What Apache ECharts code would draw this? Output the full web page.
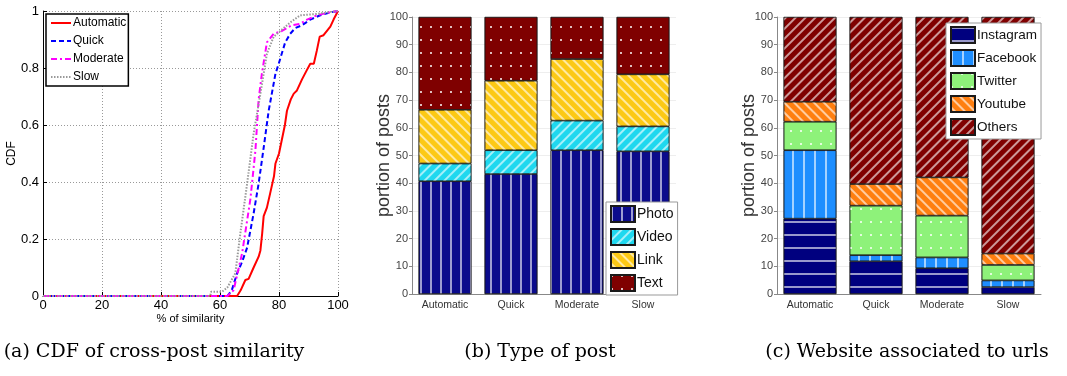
<!DOCTYPE html>
<html><head><meta charset="utf-8">
<script src="https://cdn.jsdelivr.net/npm/echarts@6/dist/echarts.min.js"></script>
<style>html,body{margin:0;padding:0;background:#fff}#c{width:1067px;height:376px}</style>
</head><body><div id="c"></div>
<script>
// ---- (a) CDF of cross-post similarity : [similarity %, CDF]
const cdfAutomatic = [[0,0],[65.8,0],[67,0.02],[68.6,0.056],[69.7,0.06],[71.4,0.1],[73.1,0.138],[73.7,0.16],[74.3,0.22],[74.8,0.28],[75.9,0.31],[77,0.36],[78.3,0.42],[78.8,0.465],[80,0.5],[81,0.55],[82,0.6],[82.7,0.65],[84,0.69],[85,0.71],[86,0.72],[87.8,0.76],[89.3,0.79],[90.6,0.815],[91.8,0.815],[92.8,0.86],[93.8,0.91],[95.1,0.915],[97.4,0.945],[98.5,0.97],[100,1]];
const cdfQuick = [[0,0],[62.5,0],[64,0.02],[65.8,0.08],[67.5,0.12],[69.2,0.17],[71.4,0.29],[73.1,0.395],[74.8,0.52],[76.5,0.65],[78.8,0.78],[79.9,0.815],[82.1,0.89],[83.8,0.92],[85.5,0.94],[87.8,0.95],[90.6,0.97],[94,0.985],[97.4,0.995],[100,1]];
const cdfModerate = [[0,0],[62.5,0],[64.6,0.02],[67.5,0.15],[70.3,0.34],[72,0.51],[73.1,0.69],[74.2,0.78],[75.9,0.89],[78.2,0.92],[81,0.93],[84.4,0.95],[87.2,0.955],[89.5,0.97],[92.9,0.985],[97,0.995],[100,1]];
const cdfSlow = [[0,0],[56.7,0],[57,0.015],[60.7,0.015],[62.5,0.03],[65.2,0.08],[66.9,0.22],[69.2,0.395],[71.4,0.57],[73.7,0.71],[75.9,0.85],[78.2,0.91],[80.5,0.93],[83.8,0.96],[87.2,0.985],[93,0.99],[100,1]];

// ---- (b) Type of post (% of posts)
const groups = ['Automatic','Quick','Moderate','Slow'];
const photo = [40.7, 43.3, 51.9, 51.5];
const video = [6.4, 8.6, 10.7, 9.0];
const link  = [19.4, 25.1, 22.2, 18.8];
const text  = [33.5, 23.0, 15.2, 20.7];

// ---- (c) Website associated to urls (% of posts)
const instagram = [27.2, 11.8, 9.3, 2.5];
const facebook  = [24.7, 2.2, 3.9, 2.4];
const twitter   = [10.3, 17.9, 15.1, 5.6];
const youtube   = [7.2, 7.8, 13.8, 4.1];
const others    = [30.6, 60.3, 57.9, 85.4];

const captions = ['(a) CDF of cross-post similarity','(b) Type of post','(c) Website associated to urls'];

const W = 'rgba(255,255,255,0.6)';
const decVert = (gap)=>({symbol:'rect',symbolSize:1,dashArrayX:[1.2,gap],dashArrayY:[1,0],color:W});
const decHorz = (gap)=>({symbol:'rect',symbolSize:1,dashArrayX:[1,0],dashArrayY:[1.2,gap],color:W});
const decDiag = (rot)=>({symbol:'rect',symbolSize:1,dashArrayX:[1,0],dashArrayY:[1.1,4.3],rotation:rot,color:W});
const decDots = {symbol:'rect',symbolSize:1,dashArrayX:[1.5,7.5],dashArrayY:[1.5,10.5],color:'rgba(255,255,255,0.75)'};

const sansAx = {fontFamily:'Liberation Sans, Arial, sans-serif'};
const chart = echarts.init(document.getElementById('c'),null,{renderer:'canvas'});

function barSeries(name,data,color,decal,stack,idx){
  return {name,type:'bar',stack,data,xAxisIndex:idx,yAxisIndex:idx,barCategoryGap:'20%',
    itemStyle:{color,decal,borderColor:'#1a1a1a',borderWidth:0.6}};
}
function lineSeries(name,data,color,type,width){
  return {name,type:'line',data,xAxisIndex:0,yAxisIndex:0,symbol:'none',
    lineStyle:{color,type,width},itemStyle:{color},z:3};
}
const barYAxis = (idx)=>({type:'value',gridIndex:idx,min:0,max:100,interval:10,
  name:'portion of posts',nameLocation:'middle',nameGap:19,nameMoveOverlap:false,
  nameTextStyle:{fontSize:18,color:'#333',...sansAx},
  axisLine:{show:true,lineStyle:{color:'#888'}},axisTick:{show:true,length:3,lineStyle:{color:'#888'}},
  axisLabel:{fontSize:11,color:'#444',margin:4,...sansAx},
  splitLine:{show:true,lineStyle:{color:'#eeeeee',width:1}}});
const barXAxis = (idx)=>({type:'category',gridIndex:idx,data:groups,
  axisLine:{show:true,lineStyle:{color:'#888'}},axisTick:{show:false},
  axisLabel:{fontSize:10.5,color:'#333',margin:6,fontFamily:'Liberation Sans Narrow, Liberation Sans, sans-serif'}});
const capFont = '19px "DejaVu Serif", serif';

chart.setOption({
  animation:false,
  grid:[
    {left:43,top:11,width:295,height:285},
    {left:412,top:17,width:264,height:277},
    {left:777,top:17,width:264,height:277}
  ],
  xAxis:[
    {type:'value',gridIndex:0,min:0,max:100,interval:20,
      name:'% of similarity',nameLocation:'middle',nameGap:17,nameMoveOverlap:false,nameTextStyle:{fontSize:11,color:'#000',...sansAx},
      axisLine:{lineStyle:{color:'#000',width:1}},axisTick:{inside:true,length:4,lineStyle:{color:'#000'}},
      axisLabel:{fontSize:13,color:'#000',margin:3,...sansAx},
      splitLine:{show:true,lineStyle:{color:'#999',type:[1,2]}}},
    barXAxis(1), barXAxis(2)
  ],
  yAxis:[
    {type:'value',gridIndex:0,min:0,max:1,interval:0.2,
      name:'CDF',nameLocation:'middle',nameGap:25,nameMoveOverlap:false,nameTextStyle:{fontSize:12,color:'#000',...sansAx},
      axisLine:{show:true,lineStyle:{color:'#000',width:1}},axisTick:{show:true,inside:true,length:4,lineStyle:{color:'#000'}},
      axisLabel:{fontSize:13,color:'#000',margin:4,...sansAx},
      splitLine:{show:true,lineStyle:{color:'#999',type:[1,2]}}},
    barYAxis(1), barYAxis(2)
  ],
  legend:[
    {data:['Automatic','Quick','Moderate','Slow'],orient:'vertical',left:46,top:14,
      itemWidth:20,itemHeight:12,itemGap:6,padding:[3,2,3,4],
      itemStyle:{opacity:0},
      backgroundColor:'#fff',borderColor:'#000',borderWidth:1.5,
      textStyle:{fontSize:12,color:'#000',padding:[0,0,0,-3],...sansAx}},
    {data:['Photo','Video','Link','Text'],orient:'vertical',left:606,top:202,icon:'rect',
      itemWidth:24,itemHeight:16,itemGap:5,padding:[3,4,3,4],
      backgroundColor:'#fff',borderColor:'#999',borderWidth:1,
      textStyle:{fontSize:14,color:'#111',padding:[0,0,0,-3],...sansAx}},
    {data:['Instagram','Facebook','Twitter','Youtube','Others'],orient:'vertical',left:946,top:23,icon:'rect',
      itemWidth:24,itemHeight:16,itemGap:5,padding:[3,4,3,4],
      backgroundColor:'#fff',borderColor:'#999',borderWidth:1,
      textStyle:{fontSize:13.5,color:'#111',padding:[0,0,0,-3],...sansAx}}
  ],
  series:[
    lineSeries('Automatic',cdfAutomatic,'#ff0000','solid',2),
    lineSeries('Quick',cdfQuick,'#0000ff',[5,3],2),
    lineSeries('Moderate',cdfModerate,'#ff00ff',[6,3,2,3],2),
    lineSeries('Slow',cdfSlow,'#999999',[1.5,1.5],2),
    barSeries('Photo',photo,'#0b0b8c',decVert(7.8),'b',1),
    barSeries('Video',video,'#1fd8ef',decDiag(-Math.PI/4),'b',1),
    barSeries('Link',link,'#fcc915',decDiag(Math.PI/4),'b',1),
    barSeries('Text',text,'#7f0000',decDots,'b',1),
    barSeries('Instagram',instagram,'#00007f',decHorz(10.5),'c',2),
    barSeries('Facebook',facebook,'#1e8eff',decVert(8.5),'c',2),
    barSeries('Twitter',twitter,'#8ef27a',decDots,'c',2),
    barSeries('Youtube',youtube,'#ff7f10',decDiag(Math.PI/4),'c',2),
    barSeries('Others',others,'#800000',decDiag(-Math.PI/4),'c',2)
  ],
  graphic:[
    {type:'text',x:154,y:352,style:{text:captions[0],font:capFont,fill:'#000',align:'center',verticalAlign:'middle'}},
    {type:'text',x:540,y:352,style:{text:captions[1],font:capFont,fill:'#000',align:'center',verticalAlign:'middle'}},
    {type:'text',x:907,y:352,style:{text:captions[2],font:capFont,fill:'#000',align:'center',verticalAlign:'middle'}}
  ]
});
</script></body></html>
